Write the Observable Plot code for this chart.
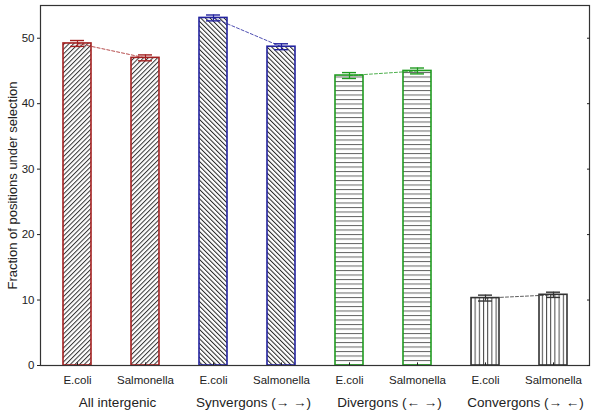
<!DOCTYPE html>
<html><head><meta charset="utf-8">
<script src="https://cdn.jsdelivr.net/npm/d3@7"></script>
<script src="https://cdn.jsdelivr.net/npm/@observablehq/plot@0.6"></script>
<style>body{margin:0;background:#fff;font-family:"Liberation Sans",Arial,sans-serif}</style>
</head><body><div id="chart"></div>
<script>
const groups = ["All intergenic", "Synvergons (\u2192 \u2192)", "Divergons (\u2190 \u2192)", "Convergons (\u2192 \u2190)"];
const species = ["E.coli", "Salmonella"];
const ecoliValues = [49.2, 53.1, 44.3, 10.3];
const salmValues = [47.0, 48.7, 45.0, 10.8];
const ecoliErr = [0.45, 0.45, 0.45, 0.45];
const salmErr = [0.45, 0.45, 0.45, 0.4];
const groupColors = ["#a32020", "#22229e", "#1f9a1f", "#333333"];
const groupPatterns = ["hatchA", "hatchB", "hatchC", "hatchD"];
const yTicks = [0, 10, 20, 30, 40, 50];

const rows = [];
groups.forEach((g, i) => {
  [[ecoliValues, ecoliErr], [salmValues, salmErr]].forEach(([v, e], j) => {
    rows.push({group: g, gi: i, sp: species[j], key: g + "|" + species[j], value: v[i], err: e[i]});
  });
});
const domain = rows.map(d => d.key);
const colorOf = d => groupColors[d.gi];

const plot = Plot.plot({
  width: 600, height: 414,
  marginLeft: 40, marginRight: 11, marginTop: 5, marginBottom: 49,
  style: {fontFamily: "Liberation Sans, Arial, sans-serif", fontSize: "11.5px", color: "#222"},
  x: {domain, paddingInner: 0.59, paddingOuter: 0.3, align: 0.5},
  y: {domain: [0, 55]},
  marks: [
    ...groups.map((g, i) => Plot.barY(rows.filter(d => d.gi === i), {
      x: "key", y: "value", fill: `url(#${groupPatterns[i]})`, stroke: groupColors[i], strokeWidth: 1.6
    })),
    Plot.line(rows, {x: "key", y: "value", z: "group", stroke: colorOf, strokeWidth: 0.8, strokeDasharray: "3,2"}),
    Plot.ruleX(rows, {x: "key", y1: d => d.value - d.err, y2: d => d.value + d.err, stroke: colorOf, strokeWidth: 1.2}),
    Plot.tickY(rows, {x: "key", y: d => d.value + d.err, stroke: colorOf, strokeWidth: 1.4, insetLeft: 7, insetRight: 7}),
    Plot.tickY(rows, {x: "key", y: d => d.value - d.err, stroke: colorOf, strokeWidth: 1.4, insetLeft: 7, insetRight: 7}),
    Plot.frame({stroke: "#333", strokeWidth: 1.2}),
    Plot.axisY({ticks: yTicks, tickSize: 3, tickPadding: 3, label: "Fraction of positions under selection", labelAnchor: "center", labelArrow: "none", labelOffset: 33, fontSize: 11.5}),
    Plot.axisY({ticks: yTicks, anchor: "right", tickSize: -3, tickFormat: () => "", label: null}),
    Plot.axisX({tickSize: 0, tickPadding: 10, tickFormat: d => d.split("|")[1], label: null, fontSize: 11.5}),
    Plot.ruleX(rows, {x: "key", y1: 0, y2: 0.4, stroke: "#222"}),
    Plot.text(groups, {x: d => d + "|E.coli", frameAnchor: "bottom", dy: 41, dx: 40, text: d => d, fontSize: 13.5, fill: "#222"})
  ]
});

const svg = d3.select(plot);
svg.selectAll("g[aria-label='y-axis label'] text").style("font-size", "13px");
const defs = svg.insert("defs", ":first-child");
function pat(id, angle, spacing, color) {
  const p = defs.append("pattern").attr("id", id).attr("patternUnits", "userSpaceOnUse")
    .attr("width", spacing).attr("height", spacing).attr("patternTransform", `rotate(${angle})`);
  p.append("rect").attr("width", spacing).attr("height", spacing).attr("fill", "#fff");
  p.append("line").attr("x1", 0.5).attr("y1", 0).attr("x2", 0.5).attr("y2", spacing).attr("stroke", color).attr("stroke-width", 1);
}
pat("hatchA", 45, 3.3, "#333");
pat("hatchB", -45, 3.3, "#222");
pat("hatchC", 90, 4.5, "#666");
pat("hatchD", 0, 4.2, "#444");
document.getElementById("chart").appendChild(plot);
</script></body></html>
